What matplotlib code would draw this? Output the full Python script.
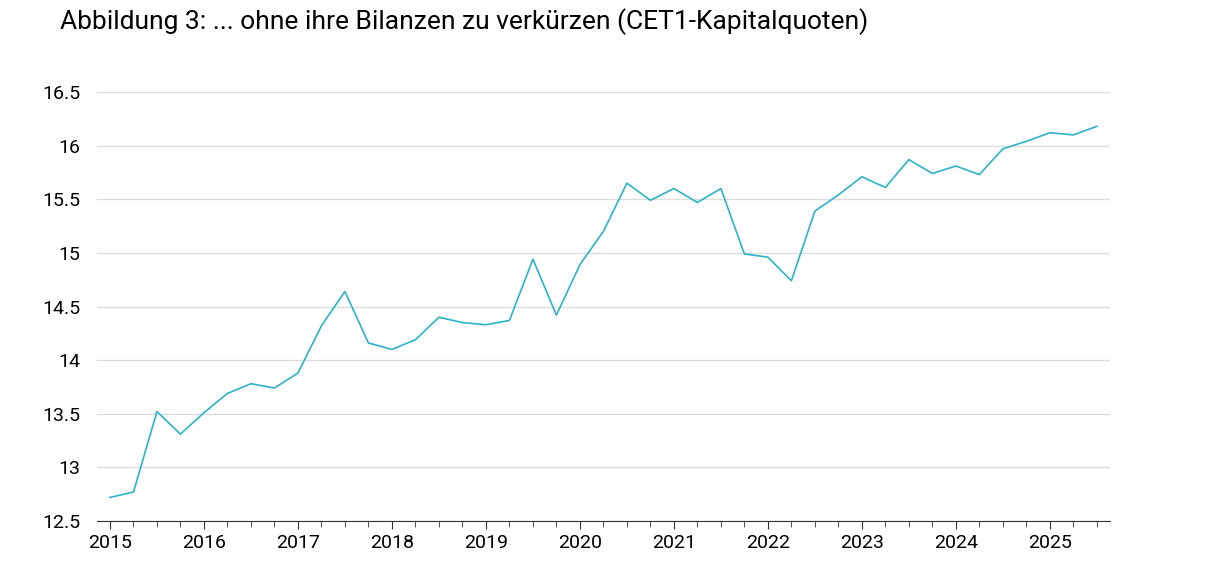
import matplotlib.pyplot as plt
import numpy as np

plt.rcParams['font.family'] = ['Liberation Sans Narrow', 'Roboto', 'DejaVu Sans']

# CET1 ratio, quarterly 2015 Q1 .. 2025 Q3
cet1 = [12.72, 12.77, 13.52, 13.31, 13.51, 13.69, 13.78, 13.74,
        13.88, 14.32, 14.64, 14.16, 14.10, 14.19, 14.40, 14.35,
        14.33, 14.37, 14.94, 14.42, 14.89, 15.20, 15.65, 15.49,
        15.60, 15.47, 15.60, 14.99, 14.96, 14.74, 15.39, 15.54,
        15.71, 15.61, 15.87, 15.74, 15.81, 15.73, 15.97, 16.04,
        16.12, 16.10, 16.18]
years = list(range(2015, 2026))
yticks = [12.5, 13, 13.5, 14, 14.5, 15, 15.5, 16, 16.5]
ylabels = ['12.5', '13', '13.5', '14', '14.5', '15', '15.5', '16', '16.5']

fig = plt.figure(figsize=(12.3, 5.64), dpi=100)
ax = fig.add_axes([97/1230, 43/564, 1013/1230, 429/564])
x = 2015 + np.arange(len(cet1)) / 4
ax.plot(x, cet1, color='#2bb3c8', linewidth=1.2)

ax.set_ylim(12.5, 16.5)
ax.set_xlim(2014.862, 2025.64)
ax.set_yticks(yticks)
ax.set_yticklabels(ylabels)
ax.set_xticks(years)
ax.set_xticklabels([str(y) for y in years])
ax.set_xticks(x, minor=True)
ax.grid(axis='y', color='#dddddd', linewidth=1)
ax.set_axisbelow(True)
for s in ['left', 'right', 'top']:
    ax.spines[s].set_visible(False)
ax.spines['bottom'].set_color('#333333')
ax.tick_params(axis='y', length=0, labelsize=14, pad=12)
ax.tick_params(axis='x', which='major', length=6, labelsize=14, color='#333333')
ax.tick_params(axis='x', which='minor', length=4, color='#333333')

fig.text(60/1230, 1 - 22/564, 'Abbildung 3: ... ohne ihre Bilanzen zu verkürzen (CET1-Kapitalquoten)',
         fontsize=19, va='center', ha='left')
fig.savefig('out.png', dpi=100)
